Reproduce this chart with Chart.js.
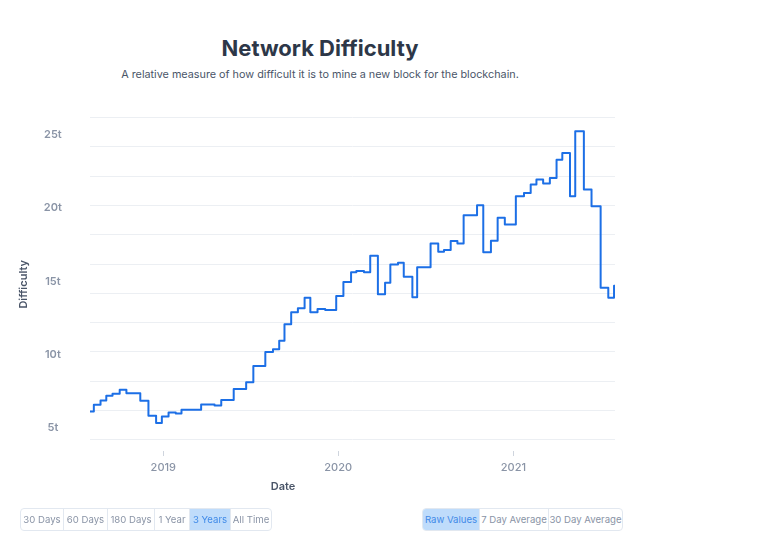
<!DOCTYPE html>
<html>
<head>
<meta charset="utf-8">
<script src="https://cdn.jsdelivr.net/npm/chart.js@4.4.1/dist/chart.umd.min.js"></script>
<style>
  body { margin: 0; background: #fff; font-family: Inter, "Noto Sans", sans-serif; width: 768px; height: 537px; overflow: hidden; position: relative; }
  h1 { position: absolute; left: 0; width: 640px; top: 35px; margin: 0; text-align: center; font-size: 22px; line-height: 26px; font-weight: 700; color: #2d3748; }
  .sub { position: absolute; left: 0; width: 640px; top: 67px; text-align: center; font-size: 10.8px; line-height: 16px; color: #4a5568; }
  #wrap { position: absolute; left: 0; top: 83px; width: 640px; height: 417px; }
  .xtitle { position: absolute; left: 253px; width: 60px; top: 479px; text-align: center; font-size: 11px; font-weight: 600; color: #4a5568; }
  .grp { position: absolute; top: 508px; height: 21px; display: flex; border: 1px solid #e2e8f0; border-radius: 4px; overflow: hidden; font-size: 9.6px; color: #8a94a6; }
  .grp span { display: block; line-height: 21px; text-align: center; white-space: nowrap; border-right: 1px solid #e2e8f0; }
  .grp span:last-child { border-right: none; }
  .grp span.on { background: #bfdcfb; color: #3f8ae8; }
</style>
</head>
<body>
<h1>Network Difficulty</h1>
<div class="sub">A relative measure of how difficult it is to mine a new block for the blockchain.</div>
<div id="wrap"><canvas id="difficulty-chart" width="640" height="417"></canvas></div>
<div class="xtitle">Date</div>
<div class="grp" style="left:20px">
  <span style="width:42px">30 Days</span>
  <span style="width:43px">60 Days</span>
  <span style="width:46px">180 Days</span>
  <span style="width:34px">1 Year</span>
  <span style="width:40px" class="on">3 Years</span>
  <span style="width:40px">All Time</span>
</div>
<div class="grp" style="left:422px">
  <span style="width:56px" class="on">Raw Values</span>
  <span style="width:68px">7 Day Average</span>
  <span style="width:73px">30 Day Average</span>
</div>
<script>
// Difficulty adjustments (trillions), each value holds until the next date
const dates = [
  '2018-08-01', '2018-08-09', '2018-08-23', '2018-09-04', '2018-09-17', '2018-10-02', '2018-10-16',
  '2018-11-14', '2018-12-01', '2018-12-17', '2018-12-29', '2019-01-12', '2019-01-27', '2019-02-08',
  '2019-03-21', '2019-04-18', '2019-05-02', '2019-05-28', '2019-06-23', '2019-07-08', '2019-08-02',
  '2019-08-18', '2019-08-31', '2019-09-11', '2019-09-25', '2019-10-09', '2019-10-23', '2019-11-04',
  '2019-11-19', '2019-12-05', '2019-12-28', '2020-01-12', '2020-01-28', '2020-02-08', '2020-02-24',
  '2020-03-08', '2020-03-24', '2020-04-08', '2020-04-19', '2020-05-05', '2020-05-17', '2020-06-04',
  '2020-06-14', '2020-07-12', '2020-07-28', '2020-08-09', '2020-08-23', '2020-09-06', '2020-09-19',
  '2020-10-17', '2020-10-30', '2020-11-15', '2020-11-29', '2020-12-14', '2021-01-06', '2021-01-23',
  '2021-02-06', '2021-02-18', '2021-03-04', '2021-03-18', '2021-04-01', '2021-04-13', '2021-04-29',
  '2021-05-10', '2021-05-28', '2021-06-13', '2021-07-02', '2021-07-18', '2021-07-30', '2021-08-01'
];
const difficulty = [
  6.11, 6.57, 6.86, 7.18, 7.32, 7.59, 7.36,
  6.84, 5.82, 5.32, 5.77, 6.04, 5.97, 6.23,
  6.59, 6.52, 6.89, 7.64, 8.11, 9.22, 10.16,
  10.36, 10.93, 12.06, 12.88, 13.15, 13.88, 12.88,
  13.11, 13.04, 13.99, 14.95, 15.61, 15.70, 15.61,
  16.74, 14.11, 14.90, 16.15, 16.26, 15.31, 13.90,
  15.95, 17.58, 17.01, 17.13, 17.74, 17.58, 19.51,
  20.19, 16.97, 17.76, 19.33, 18.88, 20.80, 21.03,
  21.60, 21.94, 21.67, 22.05, 23.30, 23.75, 20.80,
  25.23, 21.26, 20.12, 14.56, 13.88, 14.69, 14.69
];
const yTickLabels = [5, 10, 15, 20, 25];
const yGridLines = [4.17, 6.17, 8.17, 10.17, 12.17, 14.17, 16.17, 18.17, 20.17, 22.17, 24.17, 26.17];
const xTickYears = [2019, 2020, 2021];

const points = dates.map((d, i) => ({ x: Date.parse(d), y: difficulty[i] }));
const axisGrey = '#8a94a6';

new Chart(document.getElementById('difficulty-chart'), {
  type: 'line',
  data: {
    datasets: [{
      data: points,
      stepped: true,
      borderColor: '#1c6fe6',
      borderWidth: 2,
      borderJoinStyle: 'round',
      pointRadius: 0,
      fill: false,
    }],
  },
  options: {
    responsive: false,
    animation: false,
    devicePixelRatio: 1,
    layout: { padding: { top: 0, right: 25, bottom: 14, left: 0 } },
    plugins: { legend: { display: false }, tooltip: { enabled: false } },
    scales: {
      x: {
        type: 'linear',
        min: Date.parse('2018-08-01'),
        max: Date.parse('2021-08-01'),
        afterBuildTicks: axis => { axis.ticks = xTickYears.map(y => ({ value: Date.UTC(y, 0, 1) })); },
        afterFit: axis => { axis.height = 35; },
        border: { display: false },
        grid: { drawOnChartArea: false, drawTicks: true, tickLength: 5, color: '#cfd5de' },
        ticks: {
          autoSkip: false, maxRotation: 0, padding: 5, color: axisGrey,
          font: { family: 'Inter', size: 11, weight: '500' },
          callback: v => String(new Date(v).getUTCFullYear()),
        },
      },
      y: {
        min: 3.41,
        max: 26.17,
        afterBuildTicks: axis => {
          axis.ticks = yGridLines.concat(yTickLabels).sort((a, b) => a - b).map(v => ({ value: v }));
        },
        afterFit: axis => { axis.width = 90; },
        border: { display: false },
        grid: {
          drawTicks: false,
          color: c => yTickLabels.includes(c.tick.value) ? 'rgba(0,0,0,0)' : '#eceff3',
        },
        ticks: {
          autoSkip: false, crossAlign: 'center', padding: 28, color: axisGrey,
          font: { family: 'Inter', size: 11, weight: '600' },
          callback: v => yTickLabels.includes(v) ? v + 't' : '',
        },
        title: {
          display: true, text: 'Difficulty', color: '#4a5568',
          font: { family: 'Inter', size: 11, weight: '600' },
          padding: { top: 17 },
        },
      },
    },
  },
});
</script>
</body>
</html>
